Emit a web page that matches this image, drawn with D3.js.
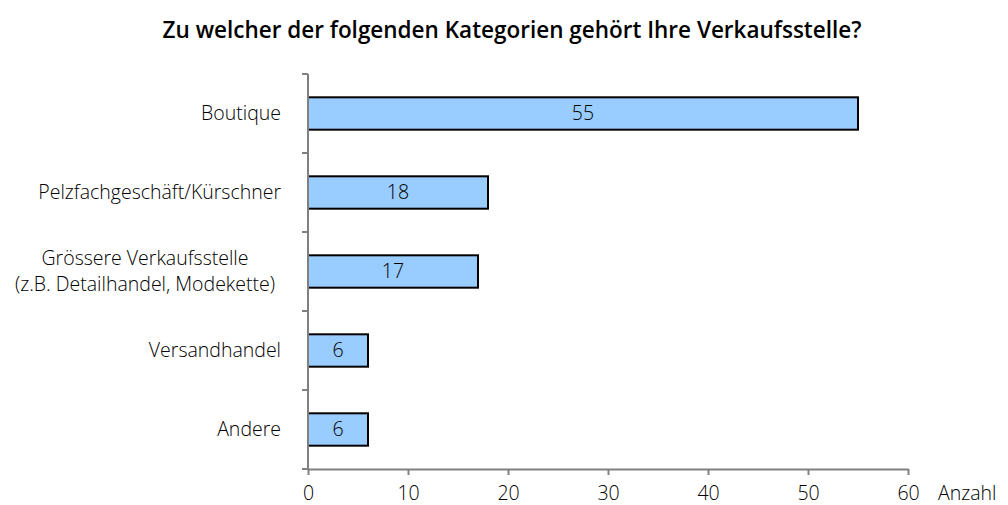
<!DOCTYPE html>
<html><head><meta charset="utf-8">
<script src="https://cdn.jsdelivr.net/npm/d3@7"></script>
<style>
body{margin:0;background:#fff;}
text{font-family:"Open Sans", sans-serif;fill:#000;font-weight:300;}
</style></head>
<body><svg id="c" width="1008" height="505"></svg>
<script>
const categories = [["Boutique"],["Pelzfachgeschäft/Kürschner"],["Grössere Verkaufsstelle","(z.B. Detailhandel, Modekette)"],["Versandhandel"],["Andere"]];
const values = [55,18,17,6,6];
const xTicks = [0,10,20,30,40,50,60];
const title = "Zu welcher der folgenden Kategorien gehört Ihre Verkaufsstelle?";
const xLabel = "Anzahl";

const svg = d3.select("#c");
const x = d3.scaleLinear().domain([0,60]).range([308,908]);
const y = d3.scaleBand().domain(d3.range(categories.length)).range([74,469]).paddingInner(0.59).paddingOuter(0.295);
const axisColor = "#808080";
const fs = "19.5px";

svg.append("text").attr("x",512).attr("y",38).attr("text-anchor","middle")
  .style("font-size","22.5px").style("font-weight","600").text(title);

// bars
svg.selectAll("rect.bar").data(values).join("rect")
  .attr("x",x(0)).attr("y",(d,i)=>y(i)).attr("width",d=>x(d)-x(0)).attr("height",y.bandwidth())
  .attr("fill","#99CCFF").attr("stroke","#000").attr("stroke-width",2);

svg.selectAll("text.val").data(values).join("text")
  .attr("x",d=>(x(d)+x(0))/2).attr("y",(d,i)=>y(i)+y.bandwidth()/2).attr("dy","0.35em")
  .attr("text-anchor","middle").style("font-size",fs).text(d=>d);

// y axis
const step = (469-74)/categories.length;
const ya = svg.append("g");
ya.append("line").attr("x1",308).attr("x2",308).attr("y1",74).attr("y2",469).attr("stroke",axisColor).attr("stroke-width",2);
ya.selectAll("line.t").data(d3.range(categories.length+1)).join("line")
  .attr("x1",302).attr("x2",308).attr("y1",i=>74+i*step).attr("y2",i=>74+i*step).attr("stroke",axisColor).attr("stroke-width",2);

// y labels
categories.forEach((lines,i)=>{
  const cy = y(i)+y.bandwidth()/2;
  const n = lines.length;
  const t = svg.append("text").style("font-size",fs)
    .attr("text-anchor", n>1 ? "middle":"end");
  lines.forEach((l,j)=>{
    t.append("tspan").attr("x", n>1 ? 145 : 281)
      .attr("y", cy + (j-(n-1)/2)*26).attr("dy","0.35em").text(l);
  });
});

// x axis
const xa = svg.append("g").attr("transform","translate(0,469)")
  .call(d3.axisBottom(x).tickValues(xTicks).tickSize(6).tickSizeOuter(0).tickPadding(11));
xa.select(".domain").attr("stroke",axisColor).attr("stroke-width",2);
xa.selectAll(".tick line").attr("stroke",axisColor).attr("stroke-width",2);
xa.selectAll(".tick text").style("font-size",fs).style("font-family","'Open Sans', sans-serif").style("font-weight","300").attr("fill","#000");

svg.append("text").attr("x",938).attr("y",500).style("font-size",fs).text(xLabel);
</script></body></html>
